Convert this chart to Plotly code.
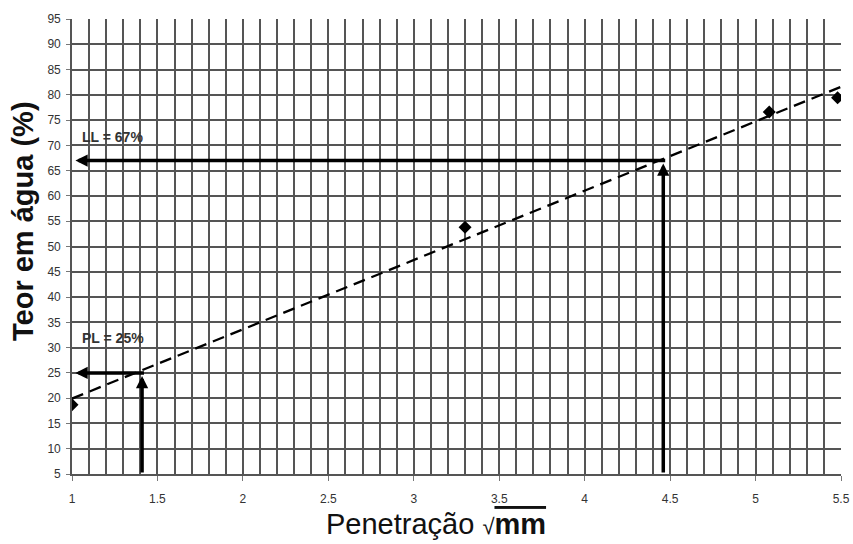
import numpy as np
import plotly.graph_objects as go

# Data
penetration = [1.0, 3.3, 5.08, 5.48]       # sqrt(mm)
water_content = [18.7, 53.8, 76.6, 79.4]   # %

ll_value = 67      # liquid limit (%)
pl_value = 25      # plastic limit (%)
ll_pen = 4.46      # penetration at LL
pl_pen = 1.41      # penetration at PL

x_ticks = [1, 1.5, 2, 2.5, 3, 3.5, 4, 4.5, 5, 5.5]
y_ticks = list(range(5, 100, 5))

# linear trend (as in the spreadsheet trendline)
slope, intercept = np.polyfit(penetration, water_content, 1)
trend_x = [1.0, 5.5]
trend_y = [intercept + slope * v for v in trend_x]

FONT = "Liberation Sans, Arial, sans-serif"

fig = go.Figure()
fig.add_trace(go.Scatter(x=trend_x, y=trend_y, mode="lines",
                         line=dict(color="black", width=2.3, dash="12px,7px"),
                         showlegend=False, hoverinfo="skip"))
fig.add_trace(go.Scatter(x=penetration, y=water_content, mode="markers",
                         marker=dict(symbol="diamond", size=10, color="black"),
                         showlegend=False))

arrow_style = dict(showarrow=True, arrowhead=2, arrowsize=0.7, arrowwidth=3.5,
                   arrowcolor="black", axref="x", ayref="y", text="")
annotations = [
    # LL: vertical then horizontal
    dict(x=ll_pen, y=ll_value - 0.6, ax=ll_pen, ay=5, **arrow_style),
    dict(x=1.02, y=ll_value, ax=ll_pen + 0.02, ay=ll_value, **arrow_style),
    # PL
    dict(x=pl_pen, y=pl_value - 0.6, ax=pl_pen, ay=5, **arrow_style),
    dict(x=1.02, y=pl_value, ax=pl_pen + 0.02, ay=pl_value, **arrow_style),
    dict(x=1.045, y=71.6, xref="x", yref="y", text=f"<b>LL = {ll_value}%</b>",
         showarrow=False, xanchor="left", yanchor="middle",
         font=dict(family=FONT, size=14, color="#333")),
    dict(x=1.045, y=31.9, xref="x", yref="y", text=f"<b>PL = {pl_value}%</b>",
         showarrow=False, xanchor="left", yanchor="middle",
         font=dict(family=FONT, size=14, color="#333")),
    dict(x=0.473, y=-0.11, xref="paper", yref="paper",
         text="Penetração <span style='font-size:22px'>√</span><b><span style='text-decoration:overline'>mm</span></b>",
         showarrow=False, xanchor="center", yanchor="middle",
         font=dict(family=FONT, size=29, color="#111")),
    dict(x=-0.063, y=0.555, xref="paper", yref="paper",
         text="<b>Teor em água (%)</b>", textangle=-90,
         showarrow=False, xanchor="center", yanchor="middle",
         font=dict(family=FONT, size=29, color="#111")),
]

grid_col = "#555555"
fig.update_layout(
    width=853, height=544,
    margin=dict(l=72, r=12, t=19, b=70),
    paper_bgcolor="white", plot_bgcolor="white",
    annotations=annotations,
    xaxis=dict(range=[1, 5.5], tickvals=x_ticks, ticktext=[f"{v:g}" for v in x_ticks],
               automargin=False,
               showgrid=True, gridcolor=grid_col, gridwidth=1.6,
               minor=dict(dtick=0.1, tick0=1, showgrid=True, gridcolor=grid_col, gridwidth=1.6),
               ticks="outside", ticklen=5, tickcolor="#777", ticklabelstandoff=8,
               zeroline=False, showline=True, linecolor=grid_col, linewidth=1.6,
               tickfont=dict(family=FONT, size=12, color="#333")),
    yaxis=dict(range=[5, 95], tickvals=y_ticks, automargin=False,
               showgrid=True, gridcolor=grid_col, gridwidth=1.6,
               ticks="outside", ticklen=4, tickcolor="#777", ticklabelstandoff=3,
               zeroline=False, showline=True, linecolor=grid_col, linewidth=1.6,
               tickfont=dict(family=FONT, size=12, color="#333")),
)

fig.write_html("out.html")
